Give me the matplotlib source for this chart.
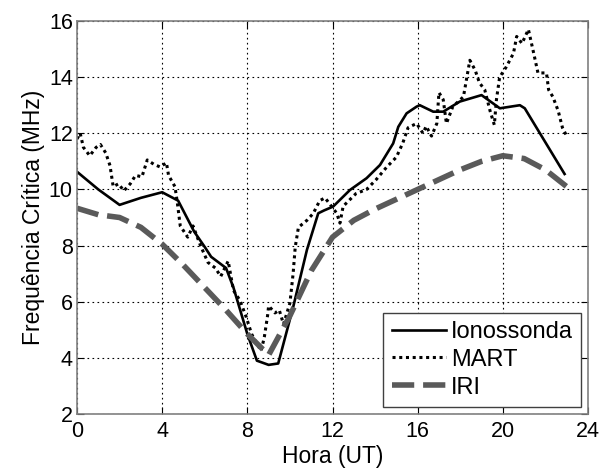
import matplotlib
matplotlib.use("Agg")
import matplotlib.pyplot as plt

plt.rcParams['font.family'] = ['Liberation Sans', 'DejaVu Sans']

iono_hour = [0, 1, 2, 3, 4, 4.75, 5.5, 6.0, 6.3, 7.0, 7.35, 8.0, 8.45, 9.0, 9.45,
             10.15, 10.8, 11.33, 11.6, 12.03, 12.82, 13.6, 14.23, 14.85, 15.09, 15.48,
             15.95, 16.1, 16.73, 17.2, 17.98, 19.0, 19.86, 20.8, 21.03, 22.9]
iono_freq = [10.63, 10.0, 9.45, 9.7, 9.9, 9.6, 8.5, 7.95, 7.6, 7.2, 6.5, 4.85, 3.9, 3.75, 3.8,
             5.8, 7.85, 9.15, 9.25, 9.39, 9.98, 10.4, 10.87, 11.64, 12.23, 12.71,
             12.95, 13.0, 12.77, 12.77, 13.13, 13.36, 12.89, 13.0, 12.89, 10.55]

mart_hour = [0.0, 0.15, 0.3, 0.6, 0.9, 1.1, 1.35, 1.55, 1.7, 1.95, 2.2, 2.5, 2.75, 3.05,
             3.3, 3.6, 3.9, 4.2, 4.3, 4.6, 4.7, 4.85, 5.2, 5.45, 5.8, 6.15, 6.5, 6.75,
             7.1, 7.35, 7.65, 7.95, 8.2, 8.45, 8.65, 8.8, 8.95, 9.0, 9.3, 9.5, 9.7, 10.0,
             10.15, 10.25, 10.4, 10.8, 11.1, 11.4, 11.65, 12.2, 12.35, 12.5, 13.1, 13.6,
             14.05, 14.55, 15.0, 15.3, 15.55, 15.95, 16.25, 16.4, 16.65, 16.9, 17.0, 17.2,
             17.35, 17.65, 18.15, 18.45, 18.7, 18.9, 19.15, 19.4, 19.6, 19.7, 19.85, 20.15,
             20.5, 20.65, 20.9, 21.2, 21.45, 21.65, 22.05, 22.15, 22.35, 22.6, 22.8, 23.0]
mart_freq = [11.8, 12.0, 11.5, 11.2, 11.5, 11.6, 11.3, 10.85, 10.1, 10.2, 9.95, 10.2, 10.5, 10.45,
             11.05, 10.9, 10.8, 10.95, 10.5, 10.1, 9.6, 8.7, 8.3, 8.7, 8.0, 7.4, 7.2, 6.9,
             7.45, 6.4, 6.05, 5.45, 4.85, 4.5, 4.25, 4.75, 5.5, 5.85, 5.6, 5.7, 5.2, 5.95,
             7.0, 7.95, 8.65, 8.9, 9.15, 9.6, 9.7, 9.15, 8.8, 9.4, 9.85, 10.0,
             10.35, 10.8, 11.15, 11.65, 12.2, 12.35, 12.0, 12.25, 11.9, 12.35, 13.45, 13.2,
             12.35, 12.95, 13.3, 14.6, 14.25, 13.8, 13.55, 12.8, 12.3, 13.2, 14.0, 14.35,
             14.85, 15.45, 15.2, 15.7, 14.85, 14.15, 14.15, 13.55, 13.3, 12.8, 12.2, 11.9]

iri_hour = list(range(0, 24))
iri_freq = [9.33, 9.1, 9.0, 8.65, 8.05, 7.3, 6.5, 5.7, 4.85, 4.1, 5.5, 7.1, 8.3, 8.9,
            9.3, 9.65, 10.0, 10.35, 10.7, 11.0, 11.2, 11.1, 10.7, 10.1]

xticks = [0, 4, 8, 12, 16, 20, 24]
yticks = [2, 4, 6, 8, 10, 12, 14, 16]

fig = plt.figure(figsize=(6.01, 4.71), dpi=100)
ax = fig.add_axes([77/601, 1 - 414/471, (588-77)/601, (414-21)/471])

ax.plot(iono_hour, iono_freq, color='black', lw=1.9, label='Ionossonda')
ax.plot(mart_hour, mart_freq, color='black', lw=2.2, linestyle=(0, (1, 1.2)), label='MART')
ax.plot(iri_hour, iri_freq, color='#5a5a5a', lw=4, linestyle=(0, (4, 1.6)), label='IRI')

ax.set_xlim(0, 24)
ax.set_ylim(2, 16)
ax.set_xticks(xticks)
ax.set_yticks(yticks)
ax.tick_params(direction='in', top=True, right=True, labelsize=15.5, length=5)
ax.tick_params(axis='x', pad=5)
ax.tick_params(axis='y', pad=3)
ax.grid(True, color='black', linestyle=(0, (1.5, 3)), lw=0.8)
for s in ax.spines.values():
    s.set_color('#808080')
    s.set_linewidth(1.2)
ax.set_xlabel('Hora (UT)', fontsize=16.5, labelpad=2)
ax.set_ylabel('Frequência Crítica (MHz)', fontsize=16.5, labelpad=3)

leg = ax.legend(loc='lower right', fontsize=17, fancybox=False, framealpha=1,
                edgecolor='#404040', handlelength=2.3, borderaxespad=0.3,
                labelspacing=0.25, handletextpad=0.2, borderpad=0.35)
leg.get_frame().set_linewidth(1.0)

fig.savefig('out.png', dpi=100)
